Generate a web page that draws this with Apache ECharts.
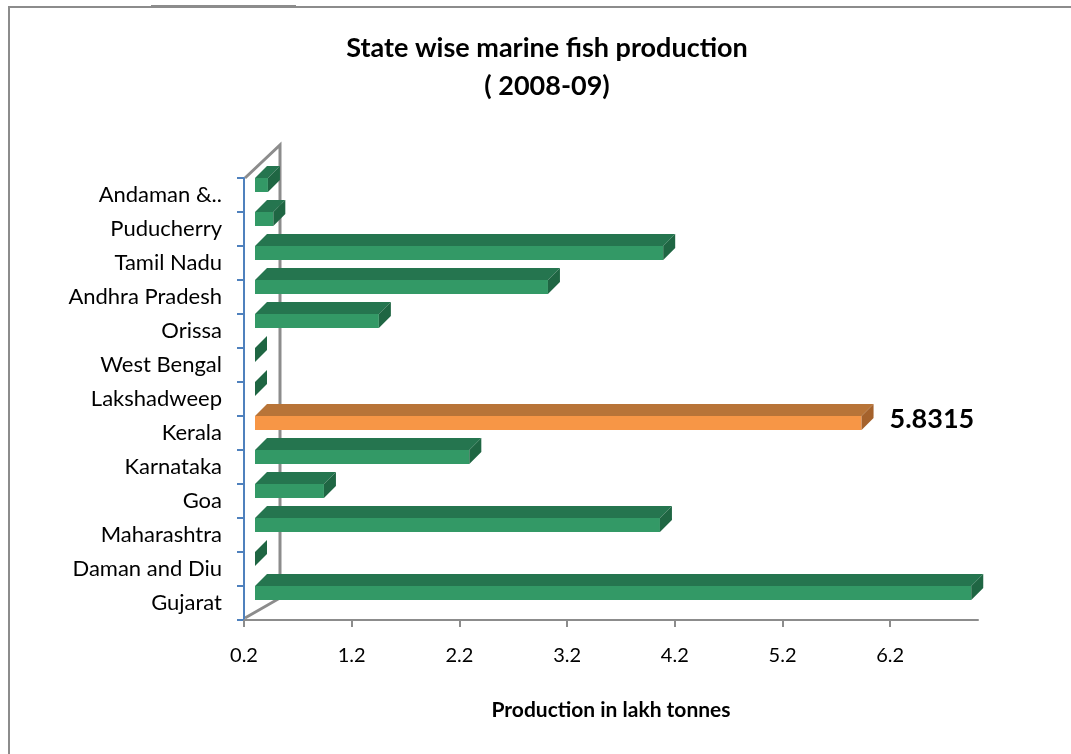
<!DOCTYPE html>
<html>
<head>
<meta charset="utf-8">
<script src="https://cdn.jsdelivr.net/npm/echarts@6/dist/echarts.min.js"></script>
<style>
  html, body { margin: 0; padding: 0; background: #fff; }
  #chart { width: 1071px; height: 754px; }
</style>
</head>
<body>
<div id="chart"></div>
<script>
// states, bottom to top
const states = ['Gujarat', 'Daman and Diu', 'Maharashtra', 'Goa', 'Karnataka', 'Kerala',
  'Lakshadweep', 'West Bengal', 'Orissa', 'Andhra Pradesh', 'Tamil Nadu', 'Puducherry', 'Andaman &..'];
// production in lakh tonnes
const production = [6.85, 0.2, 3.96, 0.84, 2.19, 5.8315, 0.2, 0.2, 1.35, 2.92, 3.99, 0.37, 0.32];
const highlight = 'Kerala';

const MIN = 0.2;
const FONT = 'Lato, "Open Sans", sans-serif';
const GRID = { left: 244, right: 93, top: 178, bottom: 134 };

let myChart = echarts.init(document.getElementById('chart'));

function renderBar(params, api) {
  let v = api.value(0), cat = api.value(1);
  let start = api.coord([MIN, cat]);
  let end = api.coord([Math.max(v, MIN), cat]);
  let name = states[cat];
  let isHi = name === highlight;
  let front = isHi ? '#f79646' : '#339966';
  let top = isHi ? '#b87438' : '#25754f';
  let side = isHi ? '#a5622c' : '#1f6643';
  let h = 14, d = 12, shift = 11;
  let x0 = start[0] + shift, x1 = end[0] + shift;
  let y0 = start[1] - 17;
  let children = [];
  if (x1 - x0 > 0.5) {
    children.push({ type: 'rect', shape: { x: x0, y: y0, width: x1 - x0, height: h }, style: { fill: front } });
    children.push({ type: 'polygon', shape: { points: [[x0, y0], [x0 + d, y0 - d], [x1 + d, y0 - d], [x1, y0]] }, style: { fill: top } });
  }
  children.push({ type: 'polygon', shape: { points: [[x1, y0], [x1 + d, y0 - d], [x1 + d, y0 - d + h], [x1, y0 + h]] }, style: { fill: side } });
  if (isHi) {
    children.push({
      type: 'text',
      style: { text: String(v), x: x1 + d + 16, y: y0 + 3, fill: '#000', font: 'bold 27px ' + FONT, textAlign: 'left', textVerticalAlign: 'middle' }
    });
  }
  return { type: 'group', children: children };
}

let option = {
  backgroundColor: '#fff',
  animation: false,
  title: {
    text: 'State wise marine fish production\n( 2008-09)',
    left: 542,
    top: 24,
    textAlign: 'center',
    textStyle: { fontFamily: FONT, fontSize: 27, fontWeight: 'bold', color: '#000', lineHeight: 38 }
  },
  grid: GRID,
  xAxis: {
    type: 'value',
    min: MIN,
    max: 7.015,
    interval: 1,
    name: 'Production in lakh tonnes',
    nameLocation: 'middle',
    nameGap: 80,
    nameTextStyle: { fontFamily: FONT, fontSize: 21, fontWeight: 'bold', color: '#000' },
    axisLine: { show: true, lineStyle: { color: '#8c8c8c', width: 2 } },
    axisTick: { show: true, length: 7, lineStyle: { color: '#8c8c8c', width: 2 } },
    axisLabel: { showMaxLabel: false, margin: 26, fontFamily: FONT, fontSize: 20, color: '#000',
      formatter: v => v.toFixed(1) },
    splitLine: { show: false }
  },
  yAxis: {
    type: 'category',
    data: states,
    axisLine: { show: true, lineStyle: { color: '#4f81bd', width: 2 } },
    axisTick: { show: true, length: 7, lineStyle: { color: '#4f81bd', width: 2 } },
    axisLabel: { margin: 22, fontFamily: FONT, fontSize: 22, color: '#000' },
    splitLine: { show: false }
  },
  graphic: [
    { type: 'rect', shape: { x: 9, y: 7, width: 1100, height: 800 }, style: { fill: 'none', stroke: '#8c8c8c', lineWidth: 2 } },
    { type: 'line', shape: { x1: 151, y1: 6, x2: 296, y2: 6 }, style: { stroke: '#8c8c8c', lineWidth: 2 } },
    {
      type: 'polyline',
      shape: { points: [[GRID.left + 1, GRID.top], [GRID.left + 36, GRID.top - 33], [GRID.left + 36, 754 - GRID.bottom - 22], [GRID.left + 1, 754 - GRID.bottom - 2]] },
      style: { stroke: '#8c8c8c', lineWidth: 3, fill: 'none' },
      z: 0
    }
  ],
  series: [{
    type: 'custom',
    renderItem: renderBar,
    encode: { x: 0, y: 1 },
    data: production.map((v, i) => [v, i]),
    z: 5
  }]
};

myChart.setOption(option);
</script>
</body>
</html>
